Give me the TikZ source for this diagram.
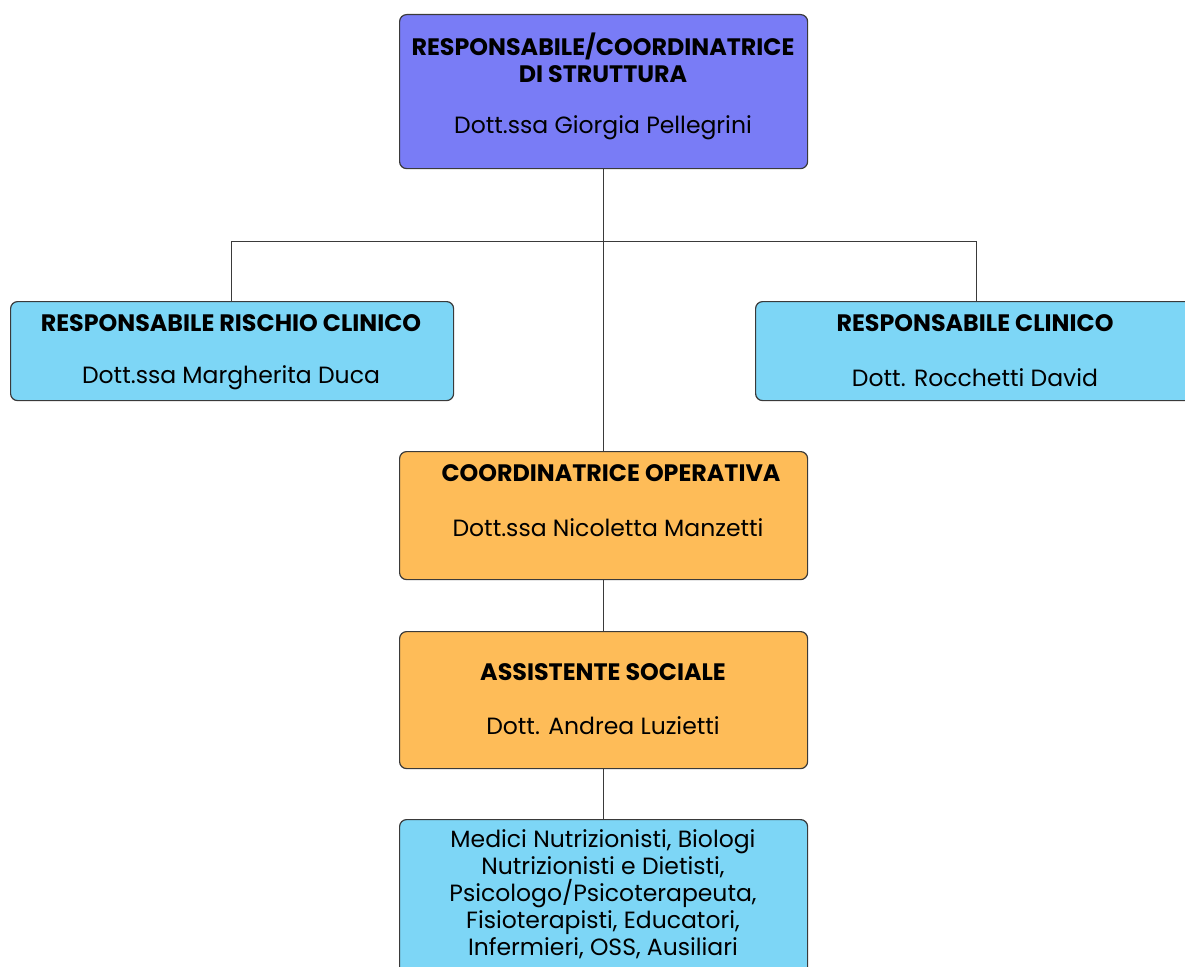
\documentclass[tikz,border=0pt]{standalone}
\usepackage{fontspec}
\setmainfont{Poppins}
\definecolor{topc}{HTML}{797CF6}
\definecolor{bluec}{HTML}{7DD6F6}
\definecolor{orc}{HTML}{FEBC58}
\definecolor{linec}{HTML}{3A3A3A}
\begin{document}
\begin{tikzpicture}[x=1pt,y=-1pt,
  box/.style={draw=linec,line width=1.2pt,rounded corners=7pt,inner sep=0pt,anchor=north west},
  ttl/.style={font=\fontsize{23.8}{27}\selectfont\bfseries,align=center,text=black},
  nm/.style={font=\fontsize{23.5}{27}\selectfont,align=center,text=black},
  conn/.style={draw=linec,line width=1pt}]
\useasboundingbox (0,0) rectangle (1185,966);
\clip (0,0) rectangle (1185,966);
\fill[white] (0,0) rectangle (1185,966);
% boxes
\node[box,fill=topc,minimum width=408pt,minimum height=154pt] (top) at (399,14) {};
\node[box,fill=bluec,minimum width=443pt,minimum height=99pt] (left) at (10,301) {};
\node[box,fill=bluec,minimum width=445pt,minimum height=99pt] (right) at (755,301) {};
\node[box,fill=orc,minimum width=408pt,minimum height=128pt] (coord) at (399,451) {};
\node[box,fill=orc,minimum width=408pt,minimum height=137pt] (ass) at (399,631) {};
\node[box,fill=bluec,minimum width=408pt,minimum height=170pt] (staff) at (399,819) {};
% connectors
\coordinate (jl) at (231,241);
\coordinate (jr) at (976,241);
\draw[conn] (top.south) -- (coord.north);
\draw[conn] (jl) -- (jr);
\draw[conn] (jl) -- (jl |- left.north);
\draw[conn] (jr) -- (jr |- right.north);
\draw[conn] (coord.south) -- (ass.north);
\draw[conn] (ass.south) -- (staff.north);
% texts
\node[ttl] (t1) at (603,58) {RESPONSABILE/COORDINATRICE\\DI STRUTTURA};
\node[nm] (n1) at (603,128) {Dott.ssa Giorgia Pellegrini};
\node[ttl] (t2) at (231,323) {RESPONSABILE RISCHIO CLINICO};
\node[nm] (n2) at (231,378) {Dott.ssa Margherita Duca};
\node[ttl] (t3) at (975,323) {RESPONSABILE CLINICO};
\node[nm] (n3) at (975,378) {Dott. Rocchetti David};
\node[ttl] (t4) at (611,473) {COORDINATRICE OPERATIVA};
\node[nm] (n4) at (608,528) {Dott.ssa Nicoletta Manzetti};
\node[ttl] (t5) at (603,672) {ASSISTENTE SOCIALE};
\node[nm] (n5) at (603,726) {Dott. Andrea Luzietti};
\node[nm] (n6) at (603,894) {Medici Nutrizionisti, Biologi\\Nutrizionisti e Dietisti,\\Psicologo/Psicoterapeuta,\\Fisioterapisti, Educatori,\\Infermieri, OSS, Ausiliari};
\end{tikzpicture}
\end{document}
